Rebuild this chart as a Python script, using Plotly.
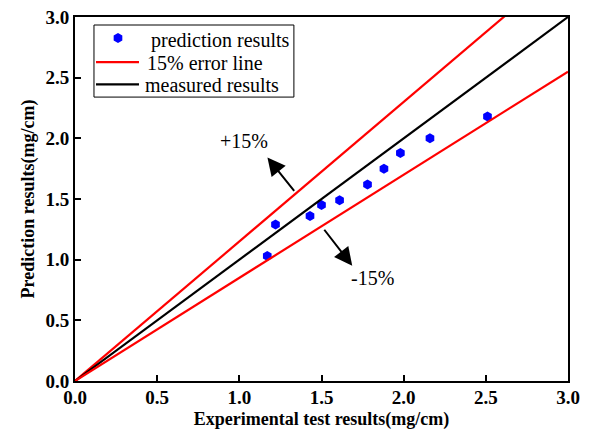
import plotly.graph_objects as go

# data
exp_x = [1.17, 1.22, 1.43, 1.50, 1.61, 1.78, 1.88, 1.98, 2.16, 2.51]
pred_y = [1.03, 1.29, 1.36, 1.45, 1.49, 1.62, 1.75, 1.88, 2.00, 2.18]
line_x = [0.0, 3.0]
measured_y = [0.0, 3.0]
upper_y = [0.0, 3.45]
lower_y = [0.0, 2.55]
tick_vals = [0.0, 0.5, 1.0, 1.5, 2.0, 2.5, 3.0]
legend_labels = ["prediction results", "15% error line", "measured results"]

FONT = "Liberation Serif, Times New Roman, serif"
BLUE = "#0000FF"
RED = "#FF0000"

fig = go.Figure()
fig.add_trace(go.Scatter(x=exp_x, y=pred_y, mode="markers", name=legend_labels[0],
                         showlegend=False,
                         marker=dict(symbol="hexagon", size=10, color=BLUE)))
fig.add_trace(go.Scatter(x=line_x, y=upper_y, mode="lines", name=legend_labels[1],
                         showlegend=False, line=dict(color=RED, width=2.2)))
fig.add_trace(go.Scatter(x=line_x, y=measured_y, mode="lines", name=legend_labels[2],
                         showlegend=False, line=dict(color="#000000", width=2.2)))
fig.add_trace(go.Scatter(x=line_x, y=lower_y, mode="lines", name=legend_labels[1],
                         showlegend=False, line=dict(color=RED, width=2.2)))

axis_common = dict(range=[0, 3], tickvals=tick_vals, tickformat=".1f",
                   ticks="inside", ticklen=6, tickwidth=2, tickcolor="black",
                   showline=True, linecolor="black", linewidth=2, mirror=True,
                   showgrid=False, zeroline=False, automargin=False,
                   tickfont=dict(family=FONT, size=19, color="black", weight="bold"))

fig.update_xaxes(**axis_common, ticklabelstandoff=-2,
                 title=dict(text="Experimental test results(mg/cm)", standoff=6,
                            font=dict(family=FONT, size=18, color="black", weight="bold")))
fig.update_yaxes(**axis_common,
                 title=dict(text="Prediction results(mg/cm)", standoff=6,
                            font=dict(family=FONT, size=18, color="black", weight="bold")))

# arrows
fig.add_annotation(x=1.171, y=1.843, ax=1.341, ay=1.554, xref="x", yref="y",
                   axref="x", ayref="y", text="", showarrow=True,
                   arrowhead=2, arrowsize=1.8, arrowwidth=2, arrowcolor="black")
fig.add_annotation(x=1.687, y=0.950, ax=1.51, ay=1.259, xref="x", yref="y",
                   axref="x", ayref="y", text="", showarrow=True,
                   arrowhead=2, arrowsize=1.8, arrowwidth=2, arrowcolor="black")
fig.add_annotation(x=1.03, y=1.975, text="+15%", showarrow=False,
                   font=dict(family=FONT, size=20, color="black"))
fig.add_annotation(x=1.81, y=0.85, text="-15%", showarrow=False,
                   font=dict(family=FONT, size=20, color="black"))

# hand-drawn legend (tighter row spacing as in the reference)
fig.add_shape(type="rect", xref="paper", yref="paper",
              x0=0.0385, x1=0.444, y0=0.780, y1=0.978,
              line=dict(color="black", width=1), fillcolor="white", layer="above")
hexpath = "M 0 5 L 4.33 2.5 L 4.33 -2.5 L 0 -5 L -4.33 -2.5 L -4.33 2.5 Z"
fig.add_shape(type="path", xref="paper", yref="paper", xsizemode="pixel",
              ysizemode="pixel", xanchor=0.0872, yanchor=0.942, path=hexpath,
              fillcolor=BLUE, line=dict(color=BLUE, width=0), layer="above")
fig.add_shape(type="line", xref="paper", yref="paper", x0=0.0426, x1=0.1298,
              y0=0.876, y1=0.876, line=dict(color=RED, width=2.2), layer="above")
fig.add_shape(type="line", xref="paper", yref="paper", x0=0.0426, x1=0.1298,
              y0=0.815, y1=0.815, line=dict(color="black", width=2.2), layer="above")
for lbl, lx, ly in zip(legend_labels, [0.150, 0.142, 0.138], [0.936, 0.873, 0.812]):
    fig.add_annotation(x=lx, y=ly, xref="paper", yref="paper", text=lbl,
                       showarrow=False, xanchor="left", yanchor="middle",
                       font=dict(family=FONT, size=20, color="black"))

fig.update_layout(
    width=592, height=435,
    margin=dict(l=75, r=24, t=17, b=54),
    paper_bgcolor="white", plot_bgcolor="white",
    showlegend=False,
)

fig.write_html("out.html")
